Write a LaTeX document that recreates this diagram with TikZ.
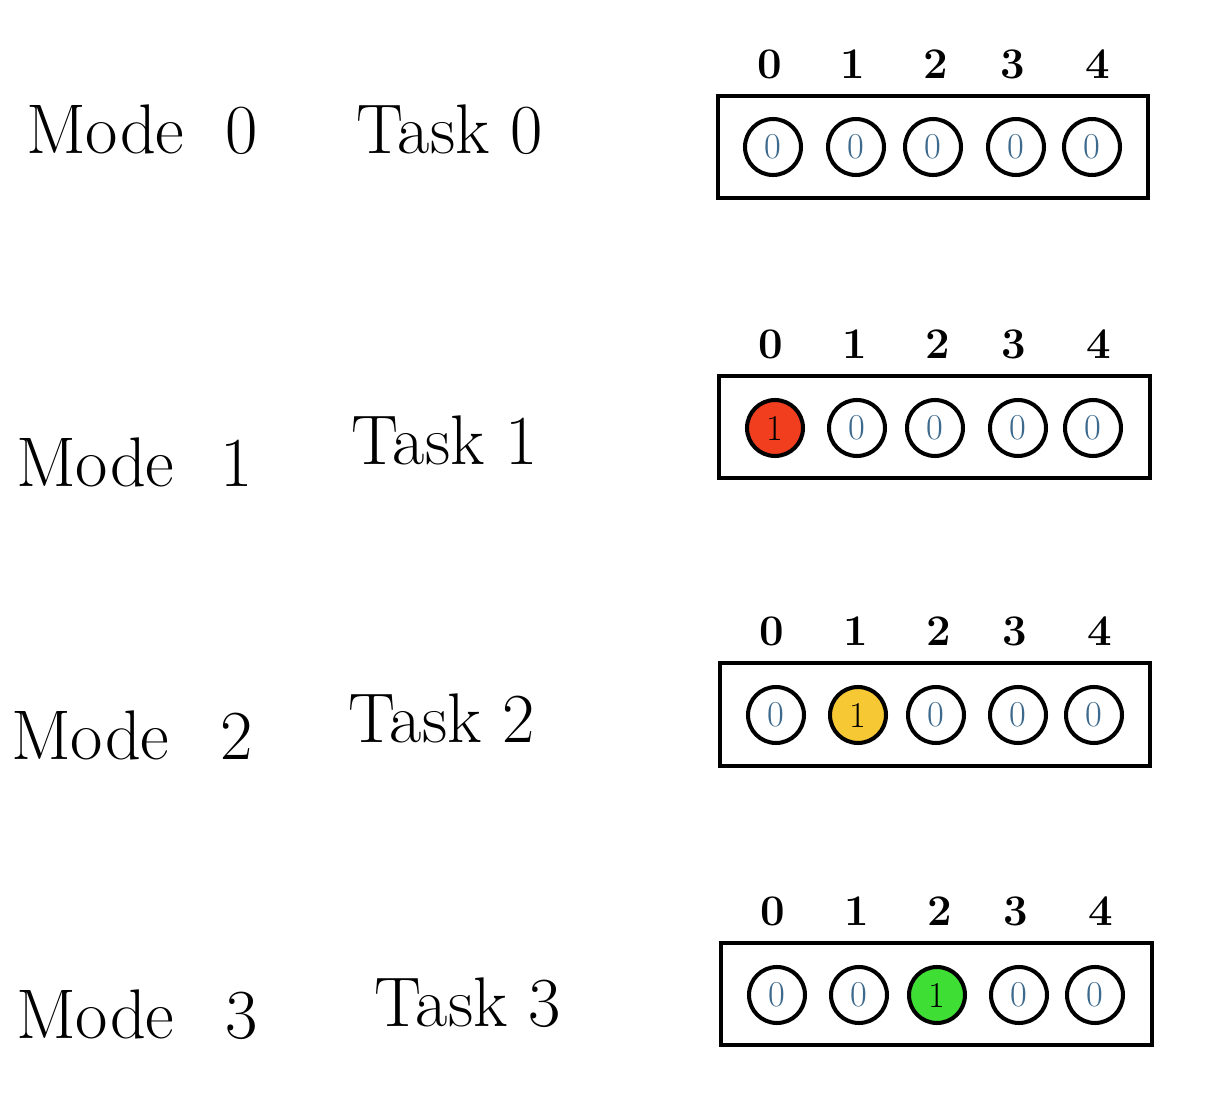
\documentclass[tikz,border=0pt]{standalone}
\usepackage{xcolor}
\usepackage{tikz}

\definecolor{digitblue}{RGB}{60,105,140}
\definecolor{hitred}{RGB}{240,62,30}
\definecolor{hityellow}{RGB}{246,200,52}
\definecolor{hitgreen}{RGB}{62,222,52}

\tikzset{
  slot/.style={circle,draw,line width=2.3pt,minimum size=1.12cm,inner sep=0pt,text=digitblue,font=\huge},
  hit/.style={slot,text=black},
  rowbox/.style={draw,line width=2.3pt},
  idx/.style={font=\Huge\bfseries},
  lbl/.style={anchor=west,font=\fontsize{40}{48}\selectfont}
}

\begin{document}
\begin{tikzpicture}[x=0.02cm,y=-0.02cm]
\useasboundingbox (0,0) rectangle (1205,1105);
% mode 0
  \node[lbl] (mode0) at (20,130) {Mode\hspace{0.4cm} 0};
  \node[lbl] (task0) at (350,130) {Task 0};
  \draw[rowbox] (718,96) rectangle (1148,198);
  \node[idx] (i00) at (770,64) {0};
  \node[idx] (i01) at (853,64) {1};
  \node[idx] (i02) at (936,64) {2};
  \node[idx] (i03) at (1013,64) {3};
  \node[idx] (i04) at (1098,64) {4};
  \node[slot] (s00) at (773,147) {0};
  \node[slot] (s01) at (856,147) {0};
  \node[slot] (s02) at (933,147) {0};
  \node[slot] (s03) at (1016,147) {0};
  \node[slot] (s04) at (1092,147) {0};
% mode 1
  \node[lbl] (mode1) at (10,462) {Mode\hspace{0.5cm} 1};
  \node[lbl] (task1) at (345,440) {Task 1};
  \draw[rowbox] (719,376) rectangle (1150,478);
  \node[idx] (i10) at (771,344) {0};
  \node[idx] (i11) at (855,344) {1};
  \node[idx] (i12) at (938,344) {2};
  \node[idx] (i13) at (1014,344) {3};
  \node[idx] (i14) at (1099,344) {4};
  \node[hit,fill=hitred] (s10) at (775,428) {1};
  \node[slot] (s11) at (857,428) {0};
  \node[slot] (s12) at (935,428) {0};
  \node[slot] (s13) at (1018,428) {0};
  \node[slot] (s14) at (1093,428) {0};
% mode 2
  \node[lbl] (mode2) at (5,735) {Mode\hspace{0.6cm} 2};
  \node[lbl] (task2) at (342,718) {Task 2};
  \draw[rowbox] (720,663) rectangle (1150,766);
  \node[idx] (i20) at (772,631) {0};
  \node[idx] (i21) at (856,631) {1};
  \node[idx] (i22) at (939,631) {2};
  \node[idx] (i23) at (1015,631) {3};
  \node[idx] (i24) at (1100,631) {4};
  \node[slot] (s20) at (776,715) {0};
  \node[hit,fill=hityellow] (s21) at (858,715) {1};
  \node[slot] (s22) at (936,715) {0};
  \node[slot] (s23) at (1018,715) {0};
  \node[slot] (s24) at (1094,715) {0};
% mode 3
  \node[lbl] (mode3) at (10,1015) {Mode\hspace{0.6cm} 3};
  \node[lbl] (task3) at (368,1003) {Task 3};
  \draw[rowbox] (721,943) rectangle (1152,1045);
  \node[idx] (i30) at (773,911) {0};
  \node[idx] (i31) at (857,911) {1};
  \node[idx] (i32) at (940,911) {2};
  \node[idx] (i33) at (1016,911) {3};
  \node[idx] (i34) at (1101,911) {4};
  \node[slot] (s30) at (777,995) {0};
  \node[slot] (s31) at (859,995) {0};
  \node[hit,fill=hitgreen] (s32) at (937,995) {1};
  \node[slot] (s33) at (1019,995) {0};
  \node[slot] (s34) at (1095,995) {0};
\end{tikzpicture}
\end{document}
